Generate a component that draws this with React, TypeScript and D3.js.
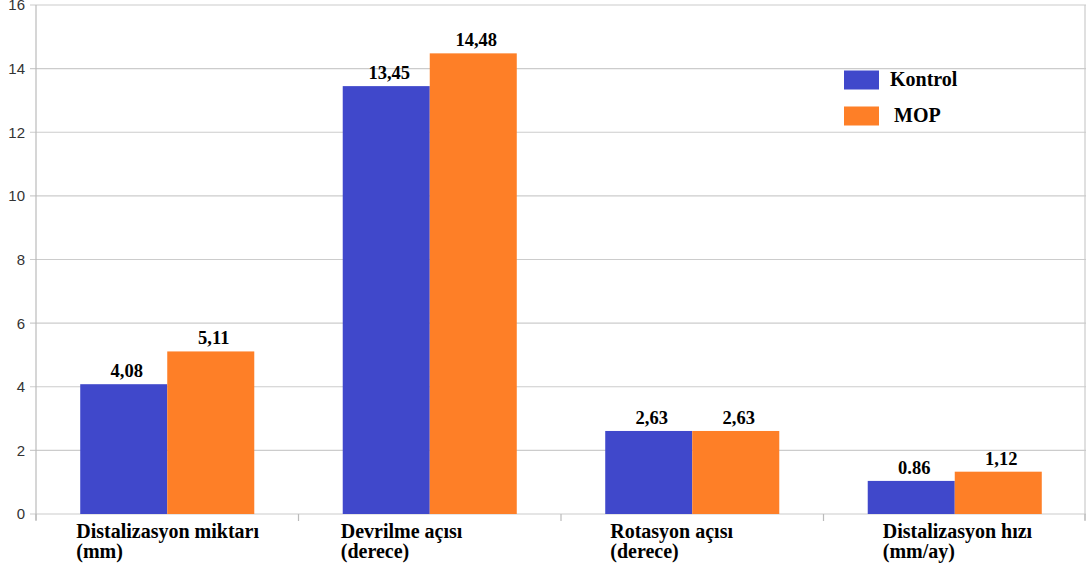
import React from "react";
import * as d3 from "d3";

const categories = [
  ["Distalizasyon miktarı", "(mm)"],
  ["Devrilme açısı", "(derece)"],
  ["Rotasyon açısı", "(derece)"],
  ["Distalizasyon hızı", "(mm/ay)"],
];
const seriesNames = ["Kontrol", "MOP"];
const kontrolValues = [4.08, 13.45, 2.61, 1.04];
const mopValues = [5.11, 14.48, 2.61, 1.33];
const kontrolLabels = ["4,08", "13,45", "2,63", "0.86"];
const mopLabels = ["5,11", "14,48", "2,63", "1,12"];
const yTicks = [0, 2, 4, 6, 8, 10, 12, 14, 16];

const colors = ["#4048CB", "#FE7F27"];
const labelOffsets = [-2, 0, 7, 17];

export default function App() {
  const W = 1088, H = 572;
  const x0 = 36, x1 = 1086;
  const y = d3.scaleLinear().domain([0, 16]).range([514, 5]);
  const band = d3.scaleBand<number>().domain([0, 1, 2, 3]).range([x0, x1]).padding(0);
  const bw = band.bandwidth();
  const barW = bw * 0.3315;
  const serif = "'Liberation Serif', 'Times New Roman', serif";
  const sans = "'Liberation Sans', Arial, sans-serif";
  const series = [kontrolValues, mopValues];
  const labels = [kontrolLabels, mopLabels];
  return (
    <svg width={W} height={H} style={{ position: "absolute", left: 0, top: 0, background: "#fff" }}>
      {yTicks.map((t) => (
        <g key={t}>
          <line x1={30} x2={x1} y1={y(t)} y2={y(t)} stroke="#cccccc" strokeWidth={1.2} />
          <text x={25} y={y(t)} dy="0.36em" textAnchor="end" fontFamily={sans} fontSize={15} fill="#333">
            {t}
          </text>
        </g>
      ))}
      <line x1={x0} x2={x0} y1={y(16)} y2={y(0) + 6} stroke="#bbbbbb" strokeWidth={1.2} />
      <line x1={x1 - 1} x2={x1 - 1} y1={y(16)} y2={y(0) + 6} stroke="#cccccc" strokeWidth={1.2} />
      {[0, 1, 2, 3, 4].map((i) => {
        const xx = i < 4 ? band(i)! : x1 - 1;
        return <line key={i} x1={xx} x2={xx} y1={y(0)} y2={y(0) + 7} stroke="#bbbbbb" strokeWidth={1.2} />;
      })}
      {categories.map((c, i) => {
        const center = band(i)! + bw / 2;
        return (
          <g key={i}>
            {series.map((s, j) => {
              const bx = center - barW + j * barW;
              return (
                <g key={j}>
                  <rect x={bx} y={y(s[i])} width={barW} height={y(0) - y(s[i])} fill={colors[j]} />
                  <text x={bx + barW / 2 + 3} y={y(s[i]) - 7} textAnchor="middle" fontFamily={serif} fontWeight="bold" fontSize={18.5} fill="#000">
                    {labels[j][i]}
                  </text>
                </g>
              );
            })}
            <text fontFamily={serif} fontWeight="bold" fontSize={20} fill="#000">
              <tspan x={center - barW + labelOffsets[i] - 2} y={538}>{c[0]}</tspan>
              <tspan x={center - barW + labelOffsets[i] - 2} y={558}>{c[1]}</tspan>
            </text>
          </g>
        );
      })}
      {seriesNames.map((n, j) => (
        <g key={n}>
          <rect x={844} y={70.5 + j * 36} width={35} height={19} fill={colors[j]} />
          <text x={890 + j * 4} y={85.5 + j * 36} fontFamily={serif} fontWeight="bold" fontSize={20} fill="#000">
            {n}
          </text>
        </g>
      ))}
    </svg>
  );
}
